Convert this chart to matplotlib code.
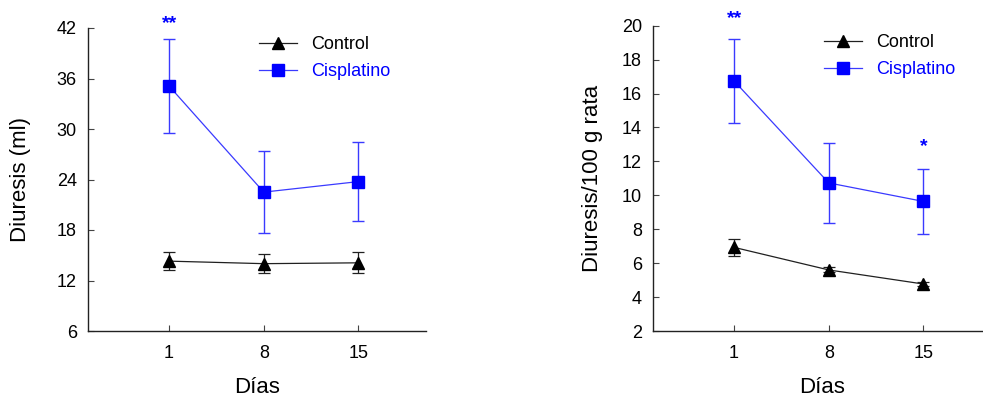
import matplotlib
matplotlib.use("Agg")
import matplotlib.pyplot as plt

plt.rcParams['font.family'] = ['Liberation Sans', 'DejaVu Sans']

days = [1, 8, 15]
day_labels = ['1', '8', '15']

# Left panel: Diuresis (ml)
ctrl_ml = [14.3, 14.0, 14.1]
ctrl_ml_err = [1.05, 1.15, 1.25]
cis_ml = [35.1, 22.5, 23.75]
cis_ml_err = [5.6, 4.9, 4.65]

# Right panel: Diuresis/100 g rata
ctrl_rel = [6.93, 5.6, 4.77]
ctrl_rel_err = [0.5, 0.15, 0.12]
cis_rel = [16.74, 10.73, 9.64]
cis_rel_err = [2.45, 2.35, 1.9]

left_yticks = [6, 12, 18, 24, 30, 36, 42]
right_yticks = [2, 4, 6, 8, 10, 12, 14, 16, 18, 20]

# significance marks: (day, y, text)
left_marks = [(1, 42.5, '**')]
right_marks = [(1, 20.4, '**'), (15, 12.85, '*')]

BLUE = '#0000ff'
LBLUE = '#3a3aff'

fig = plt.figure(figsize=(9.83, 3.97), dpi=100)
axL = fig.add_axes([88/983, 1-331/397, 338/983, 303/397])
axR = fig.add_axes([653/983, 1-331/397, 338/983, 305.3/397])

def draw(ax, ctrl, ctrl_err, cis, cis_err, yticks, ylabel, marks, ylabel_x):
    e1 = ax.errorbar(days, ctrl, yerr=ctrl_err, color='#202020', lw=0.9, marker='^',
                     ms=8, mfc='black', mec='black', capsize=4, elinewidth=0.9,
                     capthick=0.9, label='Control', zorder=3)
    e2 = ax.errorbar(days, cis, yerr=cis_err, color=LBLUE, lw=0.9, marker='s',
                     ms=8, mfc=BLUE, mec=BLUE, capsize=4, elinewidth=1.0,
                     capthick=1.0, label='Cisplatino', zorder=4)
    ax.set_xlim(-5, 20)
    ax.set_ylim(yticks[0], yticks[-1])
    ax.set_yticks(yticks)
    ax.set_xticks(days)
    ax.set_xticklabels(day_labels)
    for s in ['top', 'right']:
        ax.spines[s].set_visible(False)
    for s in ['left', 'bottom']:
        ax.spines[s].set_color('#222222')
        ax.spines[s].set_linewidth(1.0)
    ax.tick_params(axis='both', direction='in', length=4, width=0.8,
                   color='#444444', labelsize=13)
    ax.tick_params(axis='y', pad=8)
    ax.tick_params(axis='x', pad=10)
    ax.set_ylabel(ylabel, fontsize=16, va='center')
    ax.yaxis.set_label_coords(ylabel_x, 0.5)
    ax.set_xlabel('Días', fontsize=16, va='center')
    ax.xaxis.set_label_coords(0.5, -0.185)
    for d, y, t in marks:
        ax.text(d, y, t, color=BLUE, fontsize=14, fontweight='bold',
                ha='center', va='center', clip_on=False)
    leg = ax.legend(handles=[e1[0], e2[0]], labels=['Control', 'Cisplatino'],
                    loc='upper left', bbox_to_anchor=(0.505, 0.972),
                    frameon=False, fontsize=13, handlelength=2.1,
                    handletextpad=0.8, labelspacing=0.55, borderpad=0,
                    borderaxespad=0, numpoints=1)
    for txt, c in zip(leg.get_texts(), ['black', BLUE]):
        txt.set_color(c)

draw(axL, ctrl_ml, ctrl_ml_err, cis_ml, cis_ml_err, left_yticks,
     'Diuresis (ml)', left_marks, -0.20)
draw(axR, ctrl_rel, ctrl_rel_err, cis_rel, cis_rel_err, right_yticks,
     'Diuresis/100 g rata', right_marks, -0.18)

fig.savefig('out.png', dpi=100)
